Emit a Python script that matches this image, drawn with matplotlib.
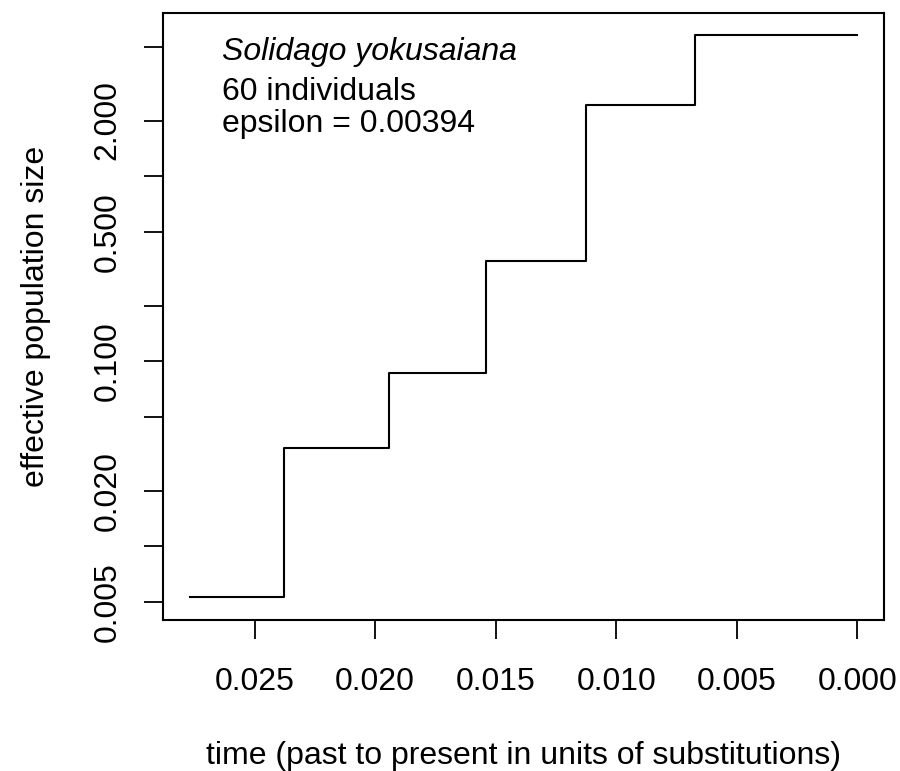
import numpy as np
import matplotlib
matplotlib.use("Agg")
import matplotlib.pyplot as plt

plt.rcParams['font.family'] = ['Liberation Sans', 'DejaVu Sans']

# skyline: interval boundaries (time before present) and effective size per interval
times = [0.02769, 0.02378, 0.01944, 0.01538, 0.01124, 0.00672, 0.0]
ne = [0.00532, 0.0340, 0.0865, 0.349, 2.43, 5.80]

xticks = [0.025, 0.020, 0.015, 0.010, 0.005, 0.000]
xticklabels = ["0.025", "0.020", "0.015", "0.010", "0.005", "0.000"]
yticks = [0.005, 0.01, 0.02, 0.05, 0.1, 0.2, 0.5, 1, 2, 5]
yticklabels = ["0.005", "", "0.020", "", "0.100", "", "0.500", "", "2.000", ""]

species = "Solidago yokusaiana"
n_ind = 60
epsilon = 0.00394

FS = 23
W, H = 900, 771
fig = plt.figure(figsize=(W / 100, H / 100), dpi=100)
ax = fig.add_axes([163 / W, 1 - 619.5 / H, (884 - 163) / W, (619.5 - 12.5) / H])

ax.step(times, ne + [ne[-1]], where='post', color='black', lw=1.5)

# R-style 4% padding on both axes
x0, x1 = max(times), min(times)
dx = 0.04 * (x0 - x1)
ax.set_xlim(x0 + dx, x1 - dx)
ax.set_yscale('log')
ly0, ly1 = np.log10(min(ne)), np.log10(max(ne))
dl = 0.04 * (ly1 - ly0)
ax.set_ylim(10 ** (ly0 - dl), 10 ** (ly1 + dl))

ax.set_xticks(xticks)
ax.set_xticklabels(xticklabels)
ax.set_yticks(yticks)
ax.set_yticklabels(yticklabels, rotation=90, va='center')
ax.yaxis.set_minor_locator(matplotlib.ticker.NullLocator())

ax.tick_params(axis='both', direction='out', length=14, width=1.3, labelsize=FS)
ax.tick_params(axis='x', pad=20)
ax.tick_params(axis='y', pad=15)
for s in ax.spines.values():
    s.set_linewidth(1.5)

fig.text(44 / W, 1 - 316 / H, "effective population size", rotation=90,
         rotation_mode='anchor', ha='center', va='baseline', fontsize=FS)
fig.text(523 / W, 1 - 764 / H, "time (past to present in units of substitutions)",
         ha='center', va='baseline', fontsize=FS)

fig.text(222 / W, 1 - 60 / H, species, fontsize=FS, style='italic',
         va='baseline', ha='left')
fig.text(222 / W, 1 - 100 / H, f"{n_ind} individuals", fontsize=FS,
         va='baseline', ha='left')
fig.text(222 / W, 1 - 132 / H, f"epsilon = {epsilon}", fontsize=FS,
         va='baseline', ha='left')

fig.savefig("out.png", dpi=100)
